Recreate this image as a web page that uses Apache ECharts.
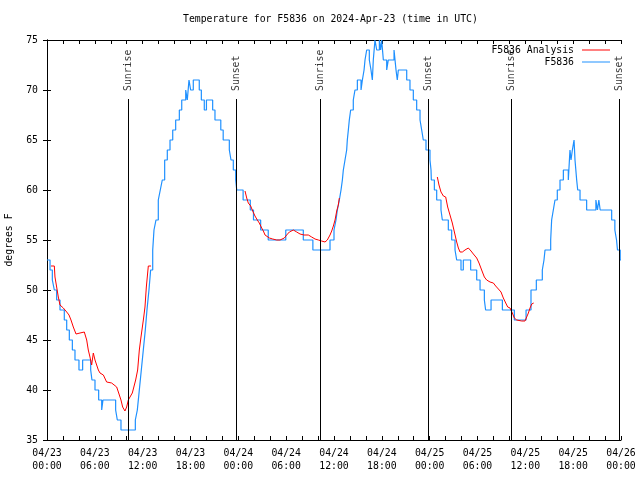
<!DOCTYPE html>
<html>
<head>
<meta charset="utf-8">
<script src="https://cdn.jsdelivr.net/npm/echarts@6/dist/echarts.min.js"></script>
<style>html,body{margin:0;padding:0;background:#fff}#c{width:640px;height:480px}</style>
</head>
<body>
<div id="c"></div>
<script>
// hours since 2024-04-23 00:00 UTC
var xTickLabels = ['04/23\n00:00','04/23\n06:00','04/23\n12:00','04/23\n18:00','04/24\n00:00','04/24\n06:00','04/24\n12:00','04/24\n18:00','04/25\n00:00','04/25\n06:00','04/25\n12:00','04/25\n18:00','04/26\n00:00'];

var blueHours = [0,0.38,0.67,0.92,1.21,1.63,2.17,2.47,2.8,3.18,3.51,4.01,4.47,5.48,5.64,6.02,6.48,6.86,7.02,8.61,8.82,9.28,11.08,11.33,11.58,11.83,12.08,12.33,12.54,12.79,13.0,13.26,13.42,13.67,13.96,14.21,14.46,14.76,15.09,15.43,15.77,16.14,16.6,16.9,17.4,17.6,17.81,18.02,18.35,19.1,19.36,19.73,20.0,20.78,21.07,21.8,22.1,22.87,23.08,23.37,23.67,23.8,24.6,25.5,25.9,26.8,27.75,29.95,32.15,33.35,35.5,36.0,36.25,36.42,36.67,36.88,37.05,37.17,37.38,37.59,37.67,37.8,37.92,38.09,38.42,38.63,38.93,39.39,39.56,39.77,39.89,40.1,40.43,40.64,40.81,40.93,41.14,41.36,41.69,41.85,41.98,42.19,42.61,42.81,43.53,43.78,43.94,44.07,45.12,45.53,45.95,46.37,46.79,47.0,47.2,47.54,48.04,48.17,48.21,48.59,48.88,49.42,49.59,50.34,50.76,51.18,51.39,51.93,52.22,53.14,53.9,54.32,54.86,55.02,55.7,57.12,58.62,60.09,60.71,61.38,62.13,62.34,62.47,63.18,63.3,63.51,63.72,64.01,64.35,64.77,65.39,65.6,65.73,65.9,66.11,66.23,66.44,66.57,66.86,67.69,68.85,69.05,69.22,69.39,70.83,71.23,71.44,71.56,71.9,72];
var blueTemps = [53,52,51,50,49,48,47,46,45,44,43,42,43,42,41,40,39,38,39,38,37,36,37,38,40,42,44,46,48,50,52,54,56,57,59,60,61,63,64,65,66,67,68,69,70,69,71,70,71,70,69,68,69,68,67,66,65,64,63,62,61,60,59,58,57,56,55,56,55,54,55,56,57,58,59,60,61,62,63,64,65,66,67,68,69,70,71,70,71,72,73,74,73,72,71,73,75,74,75,74,75,73,72,73,74,72,71,72,71,70,69,68,67,66,65,64,63,62,61,60,59,58,57,56,55,54,53,52,53,52,51,50,49,48,49,48,47,48,50,51,52,53,54,55,57,58,59,60,61,62,61,64,63,64,65,63,61,60,59,58,59,58,59,58,57,56,55,54,53,53];

var redHours = [0.5,0.92,1.0,1.21,1.42,1.63,2.05,2.47,2.76,3.01,3.3,3.64,4.14,4.68,4.98,5.18,5.39,5.6,5.81,6.02,6.23,6.44,6.65,7.07,7.48,8.11,8.74,8.95,9.28,9.49,9.78,9.99,10.2,10.41,10.7,10.95,11.12,11.37,11.58,11.79,11.96,12.12,12.29,12.46,12.71,13.05,
  18.9,
  24.84,25.05,25.25,25.55,25.8,26.09,26.38,26.63,26.93,27.14,27.35,27.55,27.89,28.31,28.81,29.23,29.77,30.06,30.4,30.9,31.32,31.74,32.24,32.78,33.2,33.62,34.04,34.45,34.87,35.16,35.5,35.71,35.92,36.13,36.34,36.54,36.67,
  42.0,
  48.96,49.17,49.42,49.72,50.01,50.26,50.55,50.84,51.1,51.39,51.6,51.81,52.1,52.43,52.85,53.19,53.48,53.9,54.19,54.52,54.86,55.15,55.57,55.99,56.28,56.62,56.95,57.24,57.54,57.79,58.08,58.37,58.62,58.92,59.54,59.96,60.17,60.38,60.59,60.8,61.05];
var redTemps = [52.4,52.4,51.3,50.3,49.3,48.5,48.2,47.8,47.5,47.0,46.3,45.6,45.7,45.8,45.0,44.0,43.3,42.5,43.7,43.0,42.5,42.0,41.7,41.5,40.8,40.7,40.3,39.8,39.0,38.3,37.9,38.3,39.0,39.3,39.7,39.8,41.0,42.0,44.0,45.3,45.4,47.2,48.3,50.3,52.4,52.4,
  null,
  59.9,59.2,58.7,58.4,57.9,57.4,57.0,56.7,56.2,55.9,55.5,55.4,55.2,55.1,55.0,55.0,55.2,55.5,55.8,56.0,55.8,55.6,55.5,55.5,55.3,55.1,55.0,54.9,54.8,55.0,55.5,55.9,56.4,57.0,57.9,58.5,59.2,
  null,
  61.3,60.5,59.8,59.4,59.3,58.3,57.5,56.7,55.8,54.8,54.2,53.8,53.8,54.0,54.2,53.9,53.6,53.2,52.7,52.0,51.3,51.0,50.8,50.7,50.4,50.1,49.8,49.2,48.7,48.3,48.2,47.7,47.2,47.0,46.9,46.9,47.3,47.7,48.2,48.6,48.7];

var sunHours = [10.2, 23.8, 34.28, 47.88, 58.24, 71.84];
var sunLabels = ['Sunrise','Sunset','Sunrise','Sunset','Sunrise','Sunset'];

var FONT = 'DejaVu Sans Mono';
var FS = 9.8;

function zip(a, b) { return a.map(function (x, i) { return [x, b[i]]; }); }

var sunLineData = sunHours.map(function (h) { return [{coord: [h, 35]}, {coord: [h, 69.1]}]; });
var sunLabelData = sunHours.map(function (h, i) { return [h, 69.8, sunLabels[i]]; });

var tickCommon = {show: true, inside: true, length: 4, lineStyle: {color: '#000', width: 1}};
var lineCommon = {show: true, lineStyle: {color: '#000', width: 1}};

var chart = echarts.init(document.getElementById('c'), null, {renderer: 'canvas'});
chart.setOption({
  animation: false,
  backgroundColor: '#fff',
  title: {
    text: 'Temperature for F5836 on 2024-Apr-23 (time in UTC)',
    left: 183, top: 14, padding: 0,
    textStyle: {fontFamily: FONT, fontSize: FS, fontWeight: 'normal', color: '#000'}
  },
  legend: {
    orient: 'vertical', right: 30, top: 45, align: 'right',
    icon: 'rect', itemWidth: 28, itemHeight: 1, itemGap: 2, padding: 0,
    data: ['F5836 Analysis', 'F5836'],
    textStyle: {fontFamily: FONT, fontSize: FS, color: '#000', lineHeight: 10, padding: [0, 3, 0, 0]}
  },
  grid: {left: 47, right: 19, top: 40, bottom: 40, containLabel: false, outerBoundsMode: 'none'},
  xAxis: [{
    type: 'value', min: 0, max: 72, interval: 2, position: 'bottom',
    axisLine: lineCommon, axisTick: tickCommon, splitLine: {show: false},
    axisLabel: {
      margin: 7, fontFamily: FONT, fontSize: FS, color: '#000', lineHeight: 13,
      formatter: function (v) { return (v % 6 === 0) ? xTickLabels[v / 6] : ''; }
    }
  }, {
    type: 'value', min: 0, max: 72, interval: 2, position: 'top',
    axisLine: lineCommon, axisTick: tickCommon, splitLine: {show: false}, axisLabel: {show: false}
  }],
  yAxis: [{
    type: 'value', min: 35, max: 75, interval: 5, position: 'left',
    name: 'degrees F', nameLocation: 'middle', nameGap: 33, nameRotate: 90,
    nameTextStyle: {fontFamily: FONT, fontSize: FS, color: '#000'},
    axisLine: lineCommon, axisTick: tickCommon, splitLine: {show: false},
    axisLabel: {margin: 9, fontFamily: FONT, fontSize: FS, color: '#000'}
  }, {
    type: 'value', min: 35, max: 75, interval: 5, position: 'right',
    axisLine: lineCommon, axisTick: tickCommon, splitLine: {show: false}, axisLabel: {show: false}
  }],
  series: [{
    name: 'F5836 Analysis', type: 'line', data: zip(redHours, redTemps),
    symbol: 'none', showSymbol: false, connectNulls: false, z: 4,
    lineStyle: {color: '#ff0000', width: 1}, itemStyle: {color: '#ff0000'}
  }, {
    name: 'F5836', type: 'line', step: 'end', data: zip(blueHours, blueTemps),
    symbol: 'none', showSymbol: false, z: 3,
    lineStyle: {color: '#1e90ff', width: 1.2}, itemStyle: {color: '#1e90ff'}
  }, {
    name: 'sun', type: 'scatter', data: sunLabelData, symbolSize: 0, silent: true, z: 5,
    label: {
      show: true, position: 'inside', rotate: 90, align: 'left', verticalAlign: 'middle', offset: [1, 0],
      fontFamily: FONT, fontSize: FS, color: '#000',
      formatter: function (p) { return p.value[2]; }
    },
    markLine: {
      silent: true, symbol: ['none', 'none'], animation: false,
      lineStyle: {color: '#000', width: 1, type: 'solid'},
      label: {show: false},
      emphasis: {disabled: true},
      data: sunLineData
    }
  }]
});
</script>
</body>
</html>
